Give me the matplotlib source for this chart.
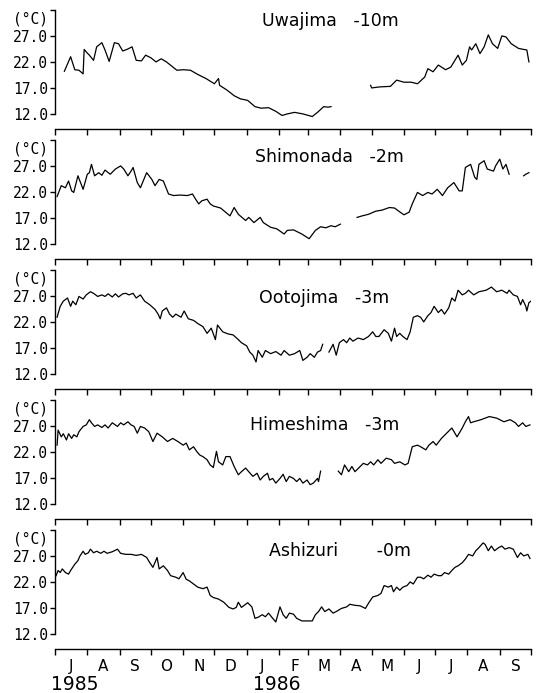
import numpy as np
import matplotlib
matplotlib.use('Agg')
import matplotlib.pyplot as plt
import matplotlib.dates as mdates
import matplotlib.transforms as mtrans
from matplotlib.ticker import FuncFormatter
from datetime import datetime

# days counted from 1 Jul 1985, temperatures in deg C (nan = no data)
uwa_days = [9, 15, 19, 23, 27, 28, 31, 33, 37, 40, 45, 48, 52, 57, 61, 65, 69, 74, 78, 83,
            87, 92, 97, 102, 107, 112, 117, 123, 130, 137, 145, 153, 157, 158, 165, 172, 178, 185, 192, 198,
            205, 212, 218, 223, 230, 238, 247, 252, 258, 262, 265,
            284,
            303, 304, 312, 322, 328, 335, 342, 348, 355, 358, 363, 368, 375, 380, 387, 391, 395, 398, 400, 404,
            408, 412, 416, 420, 425, 429, 433, 438, 445, 450, 453, 455]
uwa_temp = [20.2, 23.0, 20.5, 20.4, 19.7, 24.4, 23.7, 23.3, 22.3, 24.9, 25.7, 24.3, 22.1, 25.7, 25.5, 24.1, 24.4, 24.9, 22.3, 22.2,
            23.3, 22.8, 22.0, 22.6, 22.0, 21.2, 20.4, 20.5, 20.4, 19.6, 18.8, 17.8, 18.8, 17.5, 16.6, 15.5, 14.9, 14.6, 13.4, 13.1,
            13.2, 12.5, 11.7, 12.0, 12.3, 12.0, 11.5, 12.3, 13.4, 13.3, 13.4,
            np.nan,
            17.5, 17.0, 17.2, 17.3, 18.5, 18.1, 18.1, 17.8, 19.1, 20.7, 20.1, 21.4, 20.5, 21.0, 23.3, 21.4, 22.3, 24.9, 24.3, 25.5,
            23.6, 24.9, 27.2, 25.5, 24.6, 27.0, 26.8, 25.5, 24.6, 24.4, 24.3, 22.0]

shi_days = [2, 6, 10, 13, 16, 18, 22, 27, 31, 33, 35, 38, 42, 45, 48, 53, 58, 63, 66, 70,
            73, 75, 79, 82, 88, 93, 96, 100, 104, 109, 114, 120, 127, 132, 135, 138, 141, 146, 149, 152,
            159, 168, 172, 176, 183, 186, 191, 197, 200, 207, 213, 220, 223, 229, 237, 244, 250, 255, 260, 265,
            269, 274,
            282,
            290, 295, 301, 308, 314, 321, 326, 330, 335, 340, 343, 348, 353, 358, 362, 367, 372, 377, 383, 388,
            391, 394, 399, 403, 405, 407, 412, 415, 421, 423, 427, 430, 433, 436,
            443,
            450, 452, 455]
shi_temp = [21.1, 23.2, 22.8, 24.1, 22.2, 21.9, 25.1, 22.5, 25.4, 25.7, 27.3, 25.1, 25.7, 25.2, 26.2, 25.4, 26.4, 27.0, 26.4, 25.1,
            26.0, 26.7, 23.8, 22.8, 25.7, 24.4, 23.2, 24.4, 24.1, 21.6, 21.3, 21.4, 21.3, 21.6, 20.6, 19.7, 20.3, 20.6, 19.7, 19.3,
            18.9, 17.4, 19.0, 17.7, 16.5, 17.1, 16.1, 17.1, 16.1, 15.2, 14.9, 13.9, 14.6, 14.7, 13.9, 13.0, 14.6, 15.3, 15.1, 15.5,
            15.3, 15.8,
            np.nan,
            17.1, 17.4, 17.7, 18.3, 18.5, 19.0, 18.9, 18.3, 17.6, 18.1, 19.7, 21.9, 21.3, 21.9, 21.6, 22.5, 21.3, 22.8, 23.8, 22.2,
            22.2, 26.7, 27.3, 24.8, 24.4, 27.3, 28.0, 26.4, 26.0, 27.0, 28.3, 26.4, 27.3, 25.4,
            np.nan,
            25.1, 25.4, 25.7]

oot_days = [2, 5, 8, 12, 15, 17, 20, 23, 27, 30, 34, 37, 41, 45, 48, 51, 55, 58, 61, 65,
            68, 71, 75, 78, 82, 86, 91, 96, 99, 101, 103, 107, 110, 113, 116, 121, 124, 128, 133, 137,
            142, 146, 150, 154, 156, 161, 166, 171, 176, 179, 184, 187, 190, 193, 195, 199, 202, 207, 212, 217,
            220, 225, 230, 235, 238, 242, 245, 249, 252, 255, 257,
            260,
            263, 267, 270, 273, 277, 280, 283, 286, 291, 296, 301, 305, 308, 311, 316, 320, 323, 326, 328, 331,
            334, 338, 341, 344, 348, 351, 354, 358, 361, 364, 368, 371, 374, 378, 381, 384, 387, 391, 394, 397,
            402, 407, 414, 419, 424, 429, 434, 436, 440, 444, 447, 449, 452, 453, 455, 457]
oot_temp = [22.9, 25.0, 26.0, 26.6, 25.0, 26.0, 25.3, 26.9, 26.4, 27.2, 27.8, 27.5, 26.9, 27.2, 26.9, 27.4, 26.8, 27.4, 26.8, 27.4,
            27.5, 27.2, 27.5, 26.6, 27.2, 26.0, 25.3, 24.4, 23.5, 22.6, 24.1, 24.7, 23.5, 22.9, 23.5, 22.9, 24.1, 22.6, 22.3, 21.7,
            21.1, 19.8, 20.8, 18.6, 21.4, 20.1, 19.7, 19.5, 18.6, 18.0, 17.4, 16.2, 15.6, 14.3, 16.5, 15.2, 16.5, 15.9, 16.3, 15.6,
            16.5, 15.6, 15.9, 16.5, 14.6, 15.2, 15.9, 15.2, 16.2, 16.5, 17.7,
            np.nan,
            16.2, 17.7, 15.6, 18.0, 18.6, 18.0, 18.9, 18.3, 18.9, 18.6, 19.2, 20.1, 19.2, 19.2, 20.5, 19.8, 18.3, 20.8, 19.2, 19.8,
            19.2, 18.6, 20.1, 22.9, 23.2, 22.9, 22.0, 23.2, 23.8, 25.0, 23.8, 24.4, 23.5, 24.7, 26.6, 26.0, 28.1, 27.2, 27.5, 28.1,
            27.2, 27.8, 28.1, 28.7, 27.8, 28.1, 27.5, 28.1, 27.2, 26.9, 25.3, 26.3, 25.0, 24.1, 25.7, 26.0]

him_days = [2, 3, 6, 8, 11, 13, 16, 18, 21, 23, 27, 30, 33, 35, 38, 41, 45, 48, 51, 55,
            60, 63, 66, 70, 73, 76, 79, 82, 86, 90, 94, 98, 103, 108, 113, 118, 123, 126, 129, 133,
            136, 139, 142, 146, 149, 152, 155, 157, 161, 164, 168, 172, 176, 179, 183, 186, 190, 194, 197, 200,
            204, 206, 209, 212, 216, 219, 222, 225, 229, 232, 235, 238, 242, 245, 248, 252, 253, 255,
            263,
            272, 275, 278, 282, 285, 288, 293, 296, 300, 303, 306, 310, 313, 318, 323, 326, 331, 336, 339, 343,
            348, 351, 356, 359, 363, 366, 371, 376, 381, 386, 391, 394, 397, 399, 402, 409, 417, 424, 431, 437,
            442, 445, 449, 452, 456]
him_temp = [23.3, 26.2, 24.9, 25.5, 24.3, 25.5, 24.6, 25.3, 24.9, 25.9, 26.9, 27.2, 28.2, 27.6, 26.9, 27.2, 26.7, 27.2, 26.6, 27.6,
            26.9, 27.6, 27.2, 27.8, 27.2, 26.9, 25.6, 26.9, 26.6, 25.9, 24.0, 25.6, 24.9, 24.0, 24.6, 24.0, 23.3, 23.7, 22.4, 23.0,
            22.1, 21.4, 21.1, 20.5, 19.5, 19.0, 22.1, 20.1, 19.5, 21.1, 21.1, 19.2, 17.6, 18.2, 18.9, 18.2, 17.3, 17.9, 16.6, 17.3,
            17.9, 16.6, 16.9, 16.0, 16.9, 17.7, 16.3, 17.3, 16.9, 16.3, 16.9, 16.0, 16.6, 15.7, 16.0, 16.9, 16.3, 18.3,
            np.nan,
            18.3, 17.6, 19.5, 18.2, 19.2, 18.2, 19.2, 19.8, 19.5, 20.1, 19.5, 20.5, 19.8, 20.8, 20.5, 19.8, 20.1, 19.5, 19.8, 23.0,
            23.3, 23.0, 22.4, 23.3, 24.0, 23.3, 24.6, 25.6, 26.6, 24.9, 26.6, 27.8, 28.8, 27.6, 27.8, 28.2, 28.8, 28.5, 27.8, 28.2,
            27.6, 26.9, 27.6, 26.9, 27.2]

ash_days = [1, 3, 5, 7, 10, 13, 15, 17, 19, 22, 24, 27, 29, 32, 34, 37, 40, 44, 47, 50,
            55, 60, 63, 68, 73, 78, 83, 88, 91, 94, 98, 100, 104, 108, 111, 116, 119, 123, 126, 129,
            133, 137, 142, 146, 149, 152, 157, 162, 167, 171, 174, 176, 179, 185, 189, 192, 195, 199, 202, 205,
            209, 212, 216, 219, 222, 225, 229, 232, 237, 242, 247, 250, 253, 256, 259, 263, 267, 270, 275, 280,
            283, 288, 293, 298, 301, 305, 310, 313, 316, 320, 323, 325, 328, 331, 334, 338, 341, 344, 348, 351,
            354, 358, 361, 364, 368, 371, 374, 378, 381, 384, 387, 391, 394, 397, 401, 404, 407, 411, 413, 416,
            419, 422, 426, 429, 432, 436, 440, 444, 447, 450, 454, 456]
ash_temp = [23.2, 24.2, 23.8, 24.5, 23.8, 23.5, 24.2, 24.8, 25.4, 26.1, 27.0, 27.9, 27.3, 27.6, 28.3, 27.6, 27.9, 27.5, 27.9, 27.5,
            27.8, 28.3, 27.5, 27.3, 27.3, 27.1, 27.3, 26.7, 25.7, 24.8, 26.7, 24.5, 25.1, 24.2, 23.2, 22.9, 22.6, 23.8, 22.5, 22.2,
            21.6, 21.0, 20.7, 21.0, 19.4, 19.0, 18.7, 18.1, 17.1, 16.8, 17.1, 18.1, 17.1, 18.0, 17.2, 15.0, 15.2, 15.7, 15.3, 16.0,
            15.0, 14.3, 17.2, 15.7, 15.0, 16.0, 15.8, 15.0, 14.5, 14.5, 14.5, 15.7, 16.3, 17.2, 16.3, 16.8, 16.0, 16.3, 16.9, 17.2,
            17.7, 17.5, 17.4, 16.9, 17.9, 19.1, 19.4, 19.8, 21.3, 21.0, 21.3, 20.1, 21.0, 20.4, 21.0, 21.3, 22.0, 21.6, 22.9, 22.9,
            22.6, 23.3, 22.9, 23.5, 23.2, 23.2, 23.8, 23.5, 24.2, 24.8, 25.1, 25.7, 26.4, 27.3, 27.0, 28.0, 28.6, 29.5, 29.2, 28.0,
            28.9, 28.0, 28.6, 28.9, 28.3, 28.6, 28.3, 26.7, 27.6, 27.0, 27.3, 26.5]

names = ['Uwajima   -10m', 'Shimonada   -2m', 'Ootojima   -3m', 'Himeshima   -3m', 'Ashizuri       -0m']
all_days = [uwa_days, shi_days, oot_days, him_days, ash_days]
all_temp = [uwa_temp, shi_temp, oot_temp, him_temp, ash_temp]
title_pos = [(0.578, 0.833), (0.576, 0.785), (0.566, 0.70), (0.567, 0.72), (0.598, 0.754)]

ytick_vals = [12, 17, 22, 27, 32]
ytick_text = ['12.0', '17.0', '22.0', '27.0', '']

W, H = 538, 693
fig = plt.figure(figsize=(W / 100, H / 100), dpi=100)
fig.patch.set_facecolor('white')

t0 = mdates.date2num(datetime(1985, 7, 1))
t1 = mdates.date2num(datetime(1986, 10, 1))
x0, x1 = 55, 531
mono = 'DejaVu Sans Mono'

for k in range(5):
    bot = 129 + 130 * k
    ax = fig.add_axes([x0 / W, 1 - bot / H, (x1 - x0) / W, 130 / H])
    ax.patch.set_alpha(0)
    x = t0 + np.array(all_days[k], dtype=float)
    ax.plot(x, all_temp[k], color='black', lw=0.9)
    ax.set_xlim(t0, t1)
    ax.set_ylim(9.1, 34.1)

    for s in ['top', 'right']:
        ax.spines[s].set_visible(False)
    ax.spines['left'].set_bounds(12, 32)
    ax.spines['left'].set_linewidth(1.0)
    ax.spines['bottom'].set_linewidth(1.0)

    ax.set_yticks(ytick_vals)
    ax.set_yticklabels(ytick_text)
    ax.tick_params(axis='y', direction='out', length=3.5, width=1.0, pad=1.5,
                   labelsize=10.5, labelfontfamily=mono)

    ax.xaxis.set_major_locator(mdates.MonthLocator())
    ax.tick_params(axis='x', which='major', direction='out', length=4.5, width=1.0)
    if k < 4:
        ax.xaxis.set_major_formatter(FuncFormatter(lambda v, p: ''))
    else:
        ax.xaxis.set_major_formatter(FuncFormatter(lambda v, p: ''))
        ax.xaxis.set_minor_locator(mdates.MonthLocator(bymonthday=16))
        ax.xaxis.set_minor_formatter(FuncFormatter(lambda v, p: mdates.num2date(v).strftime('%b')[0]))
        ax.tick_params(axis='x', which='minor', length=0, pad=7, labelsize=11)

    trans = mtrans.blended_transform_factory(ax.transAxes, ax.transData)
    ax.text(-0.015, 30.2, '(°C)', transform=trans, ha='right', va='center',
            family=mono, fontsize=10.5)
    ax.text(title_pos[k][0], title_pos[k][1], names[k], transform=ax.transAxes,
            ha='center', va='center', fontsize=12.5)

fig.text(75 / W, 1 - 684 / H, '1985', ha='center', va='center', fontsize=13.5)
fig.text(277 / W, 1 - 684 / H, '1986', ha='center', va='center', fontsize=13.5)

fig.savefig('out.png', dpi=100)
